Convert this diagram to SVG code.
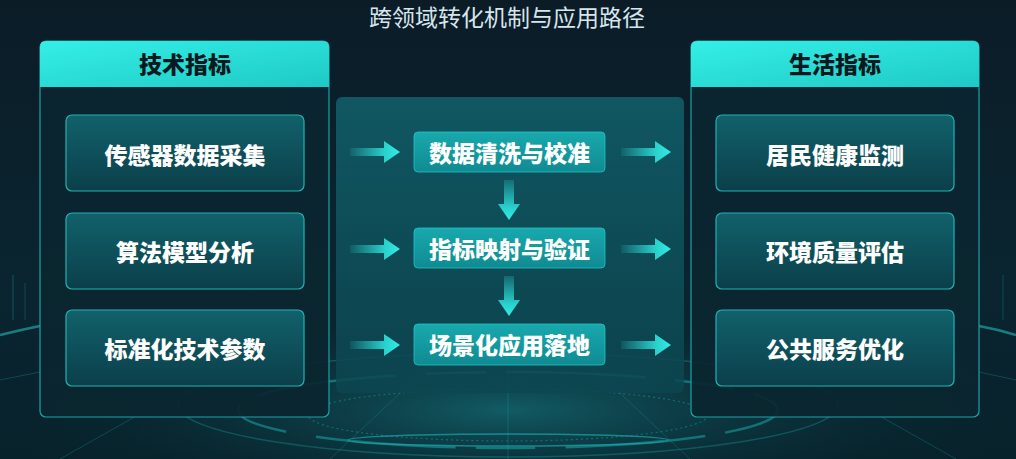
<svg xmlns="http://www.w3.org/2000/svg" width="1016" height="459" viewBox="0 0 1016 459">
<defs>
<linearGradient id="bg" x1="0" y1="0" x2="0" y2="1">
<stop offset="0" stop-color="#0b1c27"/>
<stop offset="0.6" stop-color="#0a2530"/>
<stop offset="1" stop-color="#07222b"/>
</linearGradient>
<radialGradient id="glowB" cx="0.5" cy="0.5" r="0.5">
<stop offset="0" stop-color="#1a8a92" stop-opacity="0.55"/>
<stop offset="1" stop-color="#0a2530" stop-opacity="0"/>
</radialGradient>
<linearGradient id="hdr" x1="0" y1="0" x2="1" y2="1">
<stop offset="0" stop-color="#35efe6"/>
<stop offset="1" stop-color="#1ec9c6"/>
</linearGradient>
<linearGradient id="inner" x1="0" y1="0" x2="0" y2="1">
<stop offset="0" stop-color="#11616b"/>
<stop offset="1" stop-color="#0b3f4a"/>
</linearGradient>
<linearGradient id="mid" x1="0" y1="0" x2="0" y2="1">
<stop offset="0" stop-color="#105c67" stop-opacity="0.92"/>
<stop offset="1" stop-color="#0c4650" stop-opacity="0.85"/>
</linearGradient>
<linearGradient id="step" x1="0" y1="0" x2="0" y2="1">
<stop offset="0" stop-color="#18a9ad"/>
<stop offset="1" stop-color="#0f8b92"/>
</linearGradient>
<linearGradient id="arrH" x1="0" y1="0" x2="1" y2="0">
<stop offset="0" stop-color="#2de0da" stop-opacity="0.1"/>
<stop offset="0.7" stop-color="#2de0da" stop-opacity="0.9"/>
<stop offset="1" stop-color="#33ece4"/>
</linearGradient>
<linearGradient id="arrV" x1="0" y1="0" x2="0" y2="1">
<stop offset="0" stop-color="#2de0da" stop-opacity="0.2"/>
<stop offset="0.7" stop-color="#2de0da" stop-opacity="0.9"/>
<stop offset="1" stop-color="#33ece4"/>
</linearGradient>
<linearGradient id="lineL" x1="0" y1="0" x2="1" y2="0">
<stop offset="0" stop-color="#1fb8b8" stop-opacity="0"/>
<stop offset="1" stop-color="#1fb8b8" stop-opacity="0.9"/>
</linearGradient>
<linearGradient id="lineR" x1="0" y1="0" x2="1" y2="0">
<stop offset="0" stop-color="#1fb8b8" stop-opacity="0.9"/>
<stop offset="1" stop-color="#1fb8b8" stop-opacity="0"/>
</linearGradient>
<path id="ah" d="M0,-4 H34 V-11 L50,0 L34,11 V4 H0 Z"/>
<path id="av" d="M-5,0 H5 V24 H11 L0,40 L-11,24 H-5 Z"/>
</defs>
<style>
.panel{fill:#0b2630;fill-opacity:0.92;stroke:#1aa3a6;stroke-width:1.2}
.hdr{fill:url(#hdr)}
.hdrt{font-family:"Noto Sans CJK SC","Noto Sans",sans-serif;font-weight:900;font-size:23px;fill:#081a20;text-anchor:middle;dominant-baseline:central}
.box{fill:url(#inner);stroke:#1fb3b3;stroke-width:1.2}
.bt{font-family:"Noto Sans CJK SC","Noto Sans",sans-serif;font-weight:900;font-size:23px;fill:#ffffff;text-anchor:middle;dominant-baseline:central}
.step{fill:url(#step);stroke:#22c4c2;stroke-width:0.8}
.title{font-family:"Noto Sans CJK SC","Noto Sans",sans-serif;font-weight:400;font-size:23px;fill:#d6e6ec;text-anchor:middle;dominant-baseline:central}
.ring{fill:none;stroke:#1ec3c3}
</style>
<rect width="1016" height="459" fill="url(#bg)"/>
<ellipse cx="508" cy="410" rx="520" ry="110" fill="url(#glowB)"/>
<g id="decor" opacity="0.8">
<ellipse class="ring" cx="508" cy="405" rx="330" ry="52" stroke-opacity="0.35" stroke-width="1.5"/>
<ellipse class="ring" cx="508" cy="410" rx="270" ry="38" stroke-opacity="0.55" stroke-width="2.5" stroke-dasharray="60 20 140 30"/>
<ellipse class="ring" cx="508" cy="415" rx="200" ry="26" stroke-opacity="0.45" stroke-width="1.2" stroke-dasharray="2 3"/>
<ellipse class="ring" cx="508" cy="440" rx="160" ry="6" stroke-opacity="0.7" stroke-width="1.5"/>
<line x1="508" y1="360" x2="508" y2="459" stroke="#1ec3c3" stroke-opacity="0.3"/>
<line x1="430" y1="365" x2="330" y2="459" stroke="#1ec3c3" stroke-opacity="0.25"/>
<line x1="590" y1="365" x2="690" y2="459" stroke="#1ec3c3" stroke-opacity="0.25"/>
<line x1="200" y1="380" x2="60" y2="459" stroke="#1ec3c3" stroke-opacity="0.3"/>
<line x1="816" y1="380" x2="956" y2="459" stroke="#1ec3c3" stroke-opacity="0.3"/>
<path d="M0,335 C20,330 30,328 40,326" stroke="#2de0da" stroke-opacity="0.6" stroke-width="2.5" fill="none"/>
<path d="M979,326 C990,328 1000,330 1016,335" stroke="#2de0da" stroke-opacity="0.6" stroke-width="2.5" fill="none"/>
<line x1="0" y1="380" x2="40" y2="372" stroke="#1ec3c3" stroke-opacity="0.3"/>
<line x1="979" y1="372" x2="1016" y2="380" stroke="#1ec3c3" stroke-opacity="0.3"/>
<line x1="13" y1="275" x2="13" y2="320" stroke="#1ec3c3" stroke-opacity="0.4"/>
<line x1="25" y1="283" x2="25" y2="320" stroke="#1ec3c3" stroke-opacity="0.3"/>
<line x1="1003" y1="275" x2="1003" y2="320" stroke="#1ec3c3" stroke-opacity="0.3"/>
</g>
<g id="title">
<line x1="200" y1="14" x2="355" y2="14" stroke="url(#lineL)" stroke-width="1.5"/>
<line x1="658" y1="14" x2="815" y2="14" stroke="url(#lineR)" stroke-width="1.5"/>
<text class="title" x="507" y="16">跨领域转化机制与应用路径</text>
</g>
<g id="panel-tech">
<rect class="panel" x="40" y="41" width="289" height="376" rx="6"/>
<path class="hdr" d="M46,41 H323 Q329,41 329,47 V87 H40 V47 Q40,41 46,41 Z"/>
<text class="hdrt" x="185" y="63">技术指标</text>
</g>
<g id="node-sensor"><rect class="box" x="66" y="115" width="238" height="76" rx="6"/><text class="bt" x="185" y="154">传感器数据采集</text></g>
<g id="node-algo"><rect class="box" x="66" y="213" width="238" height="76" rx="6"/><text class="bt" x="185" y="251">算法模型分析</text></g>
<g id="node-std"><rect class="box" x="66" y="310" width="238" height="76" rx="6"/><text class="bt" x="185" y="348">标准化技术参数</text></g>
<g id="panel-mid">
<rect x="336" y="97" width="348" height="296" rx="6" fill="url(#mid)"/>
</g>
<g id="node-clean"><rect class="step" x="414" y="132" width="191" height="40" rx="4"/><text class="bt" x="509.5" y="152">数据清洗与校准</text></g>
<g id="node-map"><rect class="step" x="414" y="228" width="191" height="40" rx="4"/><text class="bt" x="509.5" y="248">指标映射与验证</text></g>
<g id="node-apply"><rect class="step" x="414" y="324" width="191" height="41" rx="4"/><text class="bt" x="509.5" y="344">场景化应用落地</text></g>
<g id="panel-life">
<rect class="panel" x="691" y="41" width="288" height="376" rx="6"/>
<path class="hdr" d="M697,41 H973 Q979,41 979,47 V87 H691 V47 Q691,41 697,41 Z"/>
<text class="hdrt" x="835" y="63">生活指标</text>
</g>
<g id="node-health"><rect class="box" x="716" y="115" width="238" height="76" rx="6"/><text class="bt" x="835" y="154">居民健康监测</text></g>
<g id="node-env"><rect class="box" x="716" y="213" width="238" height="76" rx="6"/><text class="bt" x="835" y="251">环境质量评估</text></g>
<g id="node-public"><rect class="box" x="716" y="310" width="238" height="76" rx="6"/><text class="bt" x="835" y="348">公共服务优化</text></g>
<g id="connectors">
<use href="#ah" x="350" y="152" fill="url(#arrH)"/>
<use href="#ah" x="350" y="249" fill="url(#arrH)"/>
<use href="#ah" x="350" y="345" fill="url(#arrH)"/>
<use href="#ah" x="621" y="152" fill="url(#arrH)"/>
<use href="#ah" x="621" y="249" fill="url(#arrH)"/>
<use href="#ah" x="621" y="345" fill="url(#arrH)"/>
<use href="#av" x="509" y="180" fill="url(#arrV)"/>
<use href="#av" x="509" y="276" fill="url(#arrV)"/>
</g>
</svg>
